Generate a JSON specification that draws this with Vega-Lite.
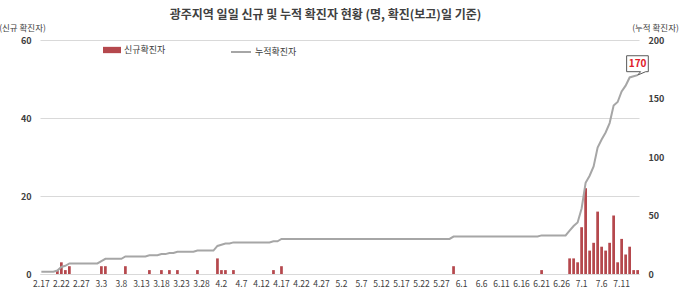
{
 "$schema": "https://vega.github.io/schema/vega-lite/v6.json",
 "width": 599, "height": 234,
 "autosize": {"type": "none"},
 "padding": {"left": 40, "top": 40, "right": 41, "bottom": 22},
 "background": "white",
 "config": {"view": {"stroke": null}, "font": "Noto Sans CJK KR"},
 "title": {"text": "광주지역 일일 신규 및 누적 확진자 현황 (명, 확진(보고)일 기준)", "fontSize": 12, "fontWeight": "bold", "color": "#404040", "anchor": "middle", "offset": 1, "dx": -14},
 "datasets": {"covid": [
  {"d":"2.17","n":0,"c":2},{"d":"2.18","n":0,"c":2},{"d":"2.19","n":0,"c":2},{"d":"2.20","n":0,"c":2},{"d":"2.21","n":1,"c":3},{"d":"2.22","n":3,"c":6},{"d":"2.23","n":1,"c":7},{"d":"2.24","n":2,"c":9},{"d":"2.25","n":0,"c":9},{"d":"2.26","n":0,"c":9},{"d":"2.27","n":0,"c":9},{"d":"2.28","n":0,"c":9},{"d":"2.29","n":0,"c":9},
  {"d":"3.1","n":0,"c":9},{"d":"3.2","n":0,"c":9},{"d":"3.3","n":2,"c":11},{"d":"3.4","n":2,"c":13},{"d":"3.5","n":0,"c":13},{"d":"3.6","n":0,"c":13},{"d":"3.7","n":0,"c":13},{"d":"3.8","n":0,"c":13},{"d":"3.9","n":2,"c":15},{"d":"3.10","n":0,"c":15},{"d":"3.11","n":0,"c":15},{"d":"3.12","n":0,"c":15},{"d":"3.13","n":0,"c":15},{"d":"3.14","n":0,"c":15},{"d":"3.15","n":1,"c":16},{"d":"3.16","n":0,"c":16},{"d":"3.17","n":0,"c":16},{"d":"3.18","n":1,"c":17},{"d":"3.19","n":0,"c":17},{"d":"3.20","n":1,"c":18},{"d":"3.21","n":0,"c":18},{"d":"3.22","n":1,"c":19},{"d":"3.23","n":0,"c":19},{"d":"3.24","n":0,"c":19},{"d":"3.25","n":0,"c":19},{"d":"3.26","n":0,"c":19},{"d":"3.27","n":1,"c":20},{"d":"3.28","n":0,"c":20},{"d":"3.29","n":0,"c":20},{"d":"3.30","n":0,"c":20},{"d":"3.31","n":0,"c":20},
  {"d":"4.1","n":4,"c":24},{"d":"4.2","n":1,"c":25},{"d":"4.3","n":1,"c":26},{"d":"4.4","n":0,"c":26},{"d":"4.5","n":1,"c":27},{"d":"4.6","n":0,"c":27},{"d":"4.7","n":0,"c":27},{"d":"4.8","n":0,"c":27},{"d":"4.9","n":0,"c":27},{"d":"4.10","n":0,"c":27},{"d":"4.11","n":0,"c":27},{"d":"4.12","n":0,"c":27},{"d":"4.13","n":0,"c":27},{"d":"4.14","n":0,"c":27},{"d":"4.15","n":1,"c":28},{"d":"4.16","n":0,"c":28},{"d":"4.17","n":2,"c":30},{"d":"4.18","n":0,"c":30},{"d":"4.19","n":0,"c":30},{"d":"4.20","n":0,"c":30},{"d":"4.21","n":0,"c":30},{"d":"4.22","n":0,"c":30},{"d":"4.23","n":0,"c":30},{"d":"4.24","n":0,"c":30},{"d":"4.25","n":0,"c":30},{"d":"4.26","n":0,"c":30},{"d":"4.27","n":0,"c":30},{"d":"4.28","n":0,"c":30},{"d":"4.29","n":0,"c":30},{"d":"4.30","n":0,"c":30},
  {"d":"5.1","n":0,"c":30},{"d":"5.2","n":0,"c":30},{"d":"5.3","n":0,"c":30},{"d":"5.4","n":0,"c":30},{"d":"5.5","n":0,"c":30},{"d":"5.6","n":0,"c":30},{"d":"5.7","n":0,"c":30},{"d":"5.8","n":0,"c":30},{"d":"5.9","n":0,"c":30},{"d":"5.10","n":0,"c":30},{"d":"5.11","n":0,"c":30},{"d":"5.12","n":0,"c":30},{"d":"5.13","n":0,"c":30},{"d":"5.14","n":0,"c":30},{"d":"5.15","n":0,"c":30},{"d":"5.16","n":0,"c":30},{"d":"5.17","n":0,"c":30},{"d":"5.18","n":0,"c":30},{"d":"5.19","n":0,"c":30},{"d":"5.20","n":0,"c":30},{"d":"5.21","n":0,"c":30},{"d":"5.22","n":0,"c":30},{"d":"5.23","n":0,"c":30},{"d":"5.24","n":0,"c":30},{"d":"5.25","n":0,"c":30},{"d":"5.26","n":0,"c":30},{"d":"5.27","n":0,"c":30},{"d":"5.28","n":0,"c":30},{"d":"5.29","n":0,"c":30},{"d":"5.30","n":2,"c":32},{"d":"5.31","n":0,"c":32},
  {"d":"6.1","n":0,"c":32},{"d":"6.2","n":0,"c":32},{"d":"6.3","n":0,"c":32},{"d":"6.4","n":0,"c":32},{"d":"6.5","n":0,"c":32},{"d":"6.6","n":0,"c":32},{"d":"6.7","n":0,"c":32},{"d":"6.8","n":0,"c":32},{"d":"6.9","n":0,"c":32},{"d":"6.10","n":0,"c":32},{"d":"6.11","n":0,"c":32},{"d":"6.12","n":0,"c":32},{"d":"6.13","n":0,"c":32},{"d":"6.14","n":0,"c":32},{"d":"6.15","n":0,"c":32},{"d":"6.16","n":0,"c":32},{"d":"6.17","n":0,"c":32},{"d":"6.18","n":0,"c":32},{"d":"6.19","n":0,"c":32},{"d":"6.20","n":0,"c":32},{"d":"6.21","n":1,"c":33},{"d":"6.22","n":0,"c":33},{"d":"6.23","n":0,"c":33},{"d":"6.24","n":0,"c":33},{"d":"6.25","n":0,"c":33},{"d":"6.26","n":0,"c":33},{"d":"6.27","n":0,"c":33},{"d":"6.28","n":4,"c":37},{"d":"6.29","n":4,"c":41},{"d":"6.30","n":3,"c":44},
  {"d":"7.1","n":12,"c":56},{"d":"7.2","n":22,"c":78},{"d":"7.3","n":6,"c":84},{"d":"7.4","n":8,"c":92},{"d":"7.5","n":16,"c":108},{"d":"7.6","n":7,"c":115},{"d":"7.7","n":6,"c":121},{"d":"7.8","n":8,"c":129},{"d":"7.9","n":15,"c":144},{"d":"7.10","n":3,"c":147},{"d":"7.11","n":9,"c":156},{"d":"7.12","n":5,"c":161},{"d":"7.13","n":7,"c":168},{"d":"7.14","n":1,"c":169},{"d":"7.15","n":1,"c":170}
 ]},
 "data": {"name": "covid"},
 "layer": [
  {
   "mark": {"type": "bar"},
   "encoding": {
    "x": {"field": "d", "type": "ordinal", "sort": null,
      "scale": {"paddingInner": 0.32, "paddingOuter": 0},
      "axis": {"values": ["2.17","2.22","2.27","3.3","3.8","3.13","3.18","3.23","3.28","4.2","4.7","4.12","4.17","4.22","4.27","5.2","5.7","5.12","5.17","5.22","5.27","6.1","6.6","6.11","6.16","6.21","6.26","7.1","7.6","7.11"],
        "labelAngle": 0, "ticks": false, "domainColor": "#D9D9D9", "labelFontSize": 8.5, "labelColor": "#404040", "labelPadding": 5, "title": null}},
    "y": {"field": "n", "type": "quantitative", "scale": {"domain": [0, 60]},
      "axis": {"values": [0, 20, 40, 60], "title": "(신규 확진자)", "titleAngle": 0, "titleX": -18, "titleY": -13, "titleAlign": "center", "titleBaseline": "middle", "titleFontSize": 8.5, "titleFontWeight": "normal", "titleColor": "#404040",
        "grid": true, "gridColor": "#D9D9D9", "domain": false, "ticks": false, "labelPadding": 9, "labelFontWeight": "bold", "labelFontSize": 9, "labelColor": "#404040"}},
    "fill": {"datum": "신규확진자", "type": "nominal", "scale": {"domain": ["신규확진자"], "range": ["#B5484D"]},
      "legend": {"orient": "none", "legendX": 63, "legendY": 1, "title": null, "padding": 0, "symbolType": "M-1,-0.35L1,-0.35L1,0.35L-1,0.35Z", "symbolSize": 324, "symbolStrokeWidth": 0, "labelFontSize": 9, "labelColor": "#404040", "labelOffset": 3}}
   }
  },
  {
   "layer": [
    {
     "mark": {"type": "line", "strokeWidth": 2},
     "encoding": {
      "x": {"field": "d", "type": "ordinal", "sort": null},
      "y": {"field": "c", "type": "quantitative", "scale": {"domain": [0, 200]},
        "axis": {"orient": "right", "values": [0, 50, 100, 150, 200], "title": "(누적 확진자)", "titleAngle": 0, "titleX": 16, "titleY": -13, "titleAlign": "center", "titleBaseline": "middle", "titleFontSize": 8.5, "titleFontWeight": "normal", "titleColor": "#404040",
          "grid": false, "domain": false, "ticks": false, "labelPadding": 9, "labelFontWeight": "bold", "labelFontSize": 9, "labelColor": "#404040"}},
      "stroke": {"datum": "누적확진자", "type": "nominal", "scale": {"domain": ["누적확진자"], "range": ["#A6A6A6"]},
        "legend": {"orient": "none", "legendX": 190, "legendY": 1, "title": null, "padding": 0, "symbolType": "stroke", "symbolSize": 400, "symbolStrokeWidth": 2, "labelFontSize": 9, "labelColor": "#404040", "labelOffset": 3}}
     }
    },
    {
     "transform": [{"filter": "datum.d == '7.15'"}],
     "mark": {"type": "point", "shape": "M-1,-1.76L0.97,-1.76L0.97,-0.31L0.73,-0.31L0,0L0.27,-0.31L-1,-0.31Z", "size": 484, "filled": true, "fill": "white", "stroke": "#595959", "strokeWidth": 1, "opacity": 1},
     "encoding": {
      "x": {"field": "d", "type": "ordinal", "sort": null},
      "y": {"field": "c", "type": "quantitative", "scale": {"domain": [0, 200]}}
     }
    },
    {
     "transform": [{"filter": "datum.d == '7.15'"}],
     "mark": {"type": "text", "dy": -11, "fontWeight": "bold", "fontSize": 10, "color": "#E0202A"},
     "encoding": {
      "x": {"field": "d", "type": "ordinal", "sort": null},
      "y": {"field": "c", "type": "quantitative", "scale": {"domain": [0, 200]}},
      "text": {"field": "c", "type": "quantitative"}
     }
    }
   ]
  }
 ],
 "resolve": {"scale": {"y": "independent"}}
}
